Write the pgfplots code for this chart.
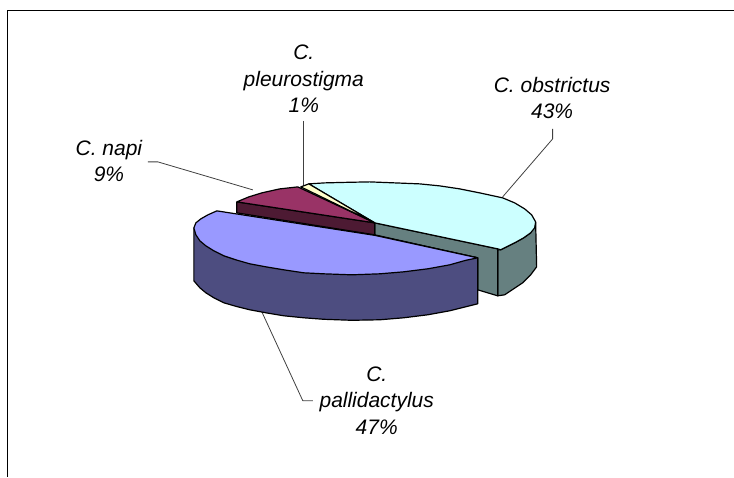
\documentclass[border=0pt]{standalone}
\usepackage{pgfplots}
\pgfplotsset{compat=1.18}
\usepackage{fontspec}
\setmainfont{Liberation Sans}
\definecolor{cyT}{HTML}{CCFFFF}
\definecolor{cyS}{HTML}{668080}
\definecolor{blT}{HTML}{9999FF}
\definecolor{blS}{HTML}{4D4D80}
\definecolor{maT}{HTML}{993366}
\definecolor{maS}{HTML}{4D1A33}
\definecolor{yeT}{HTML}{FFFFCC}
\begin{document}
\begin{tikzpicture}
\begin{axis}[
  scale only axis, width=734pt, height=477pt,
  xmin=0, xmax=734, ymin=0, ymax=477, y dir=reverse,
  hide axis, clip=false,
  every axis plot/.append style={black, line width=1.2pt, line join=round}
]
\path (axis cs:0,0) -- (axis cs:734,477);
% frame
\addplot[black, line width=1pt] coordinates {(7.5,477) (7.5,10.5) (734,10.5)};
% leaders
\addplot[black!75, line width=0.8pt] coordinates {(148,162) (158,162) (253,190)};
\addplot[black!75, line width=0.8pt] coordinates {(304,121) (304,187)};
\addplot[black!75, line width=0.8pt] coordinates {(553,129) (553,139) (503,197)};
\addplot[black!75, line width=0.8pt] coordinates {(262,312) (303,401) (313,401)};
% cyan outer side
\addplot[fill=cyS] coordinates {(498,250) (501,250) (515,243) (524,238) (531,233) (536,222) (537,267) (531,275) (523,283) (514,289) (505,295) (498,296) (498,250)};
% cyan cut face
\addplot[fill=cyS] coordinates {(375,223) (498,249) (498,296) (478,290) (478,258) (375,235) (375,223)};
% cyan top
\addplot[fill=cyT] coordinates {(375,223) (309,184) (325,183) (345,182.5) (370,182) (395,183) (420,184) (440,186) (460,189) (480,193) (503,198) (515,203) (525,209) (532,215) (536,222) (535,228) (531,233) (524,238) (515,243) (501,250) (498,249) (375,223)};
% maroon side
\addplot[fill=maS] coordinates {(237,202) (375,223) (375,235) (237,213) (237,202)};
% maroon top
\addplot[fill=maT] coordinates {(375,223) (237,202) (249,197) (262,193) (280,189) (298,187) (375,223)};
% yellow top
\addplot[fill=yeT] coordinates {(375,223) (301,187) (309,184) (375,223)};
% blue side
\addplot[fill=blS] coordinates {(194,228) (194,281) (200,288) (206,293) (214,298) (224,303) (236,306.5) (250,310) (266,313) (284,316) (304,318) (324,319.5) (352,320.5) (380,320) (404,318) (428,315) (450,311) (466,307) (478,304) (478,258) (375,235.5) (194,228)};
% blue top
\addplot[fill=blT] coordinates {(217,211) (375,235.5) (478,258) (466,260.5) (450,265) (428,269) (404,272) (380,274) (352,275) (324,274) (304,273) (284,270) (266,267) (250,264) (236,260) (224,256) (214,251) (206,246) (200,241) (196,235) (194,228) (196,223) (201,219) (208,215) (217,211)};
\node[font=\itshape\fontsize{21}{26.5}\selectfont, align=center] at (axis cs:552.5,98) {C. obstrictus\\43\%};
\node[font=\itshape\fontsize{21}{26.5}\selectfont, align=center] at (axis cs:304,79) {C.\\pleurostigma\\1\%};
\node[font=\itshape\fontsize{21}{26.5}\selectfont, align=center] at (axis cs:109,161) {C. napi\\9\%};
\node[font=\itshape\fontsize{21}{26.5}\selectfont, align=center] at (axis cs:377,401) {C.\\pallidactylus\\47\%};
\end{axis}
\end{tikzpicture}
\end{document}
